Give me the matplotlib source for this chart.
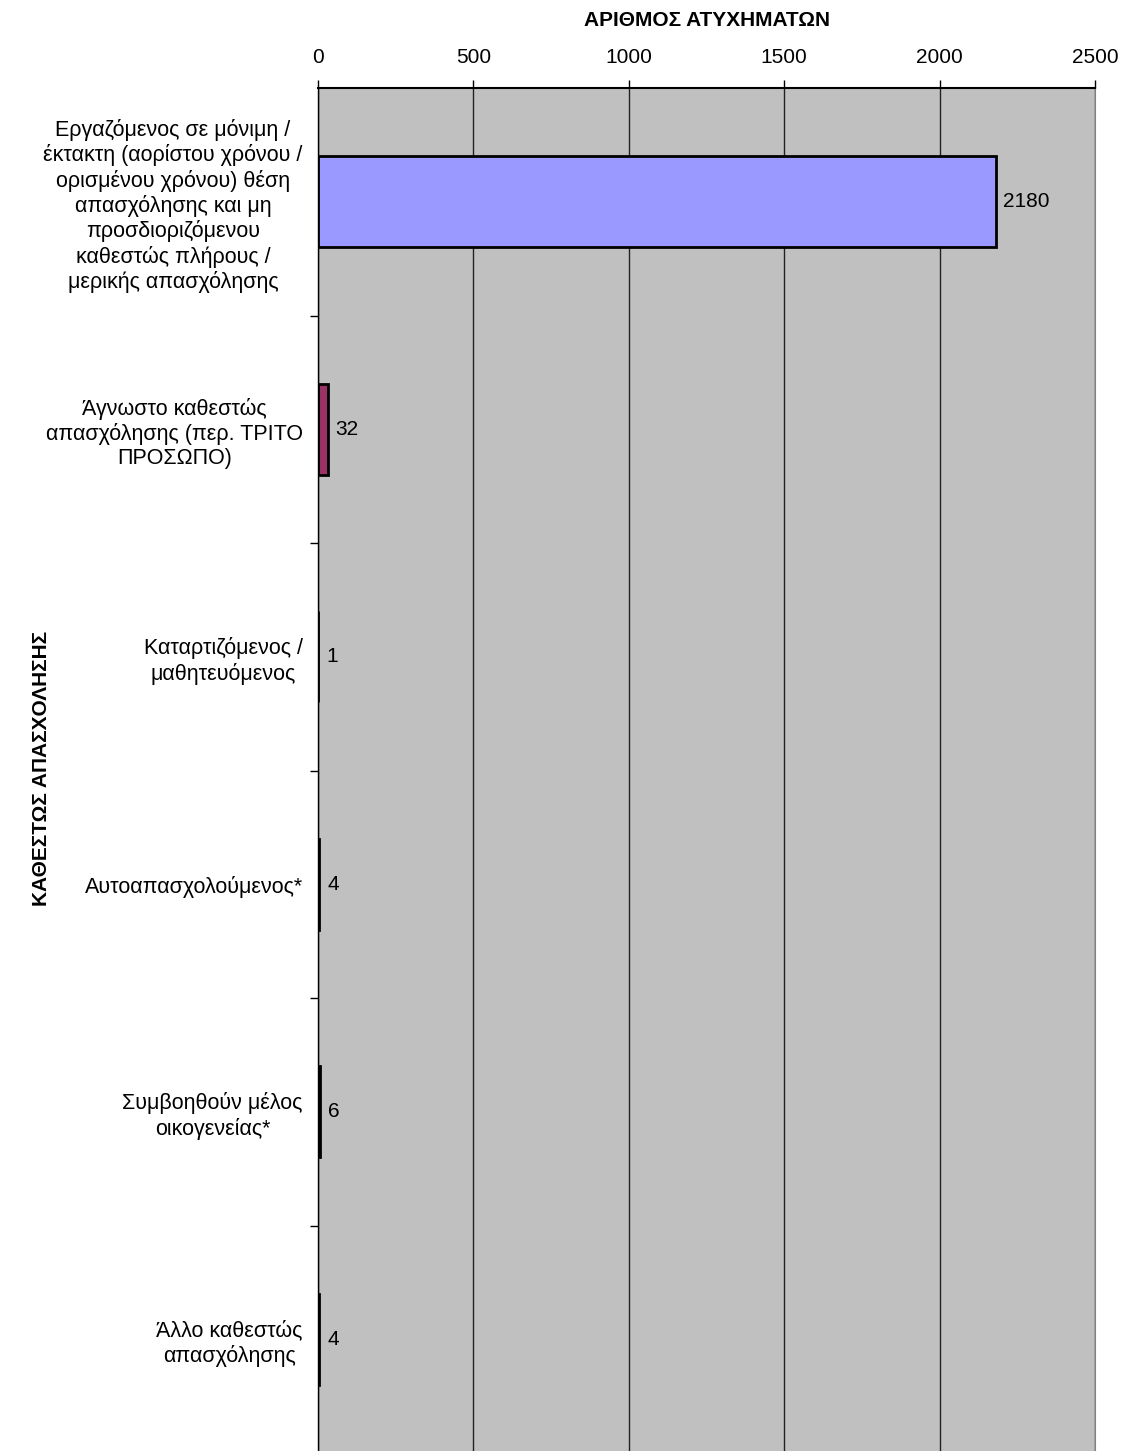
import matplotlib
matplotlib.use("Agg")
import matplotlib.pyplot as plt

plt.rcParams['font.family'] = ['Liberation Sans', 'DejaVu Sans']

categories = [
    "Εργαζόμενος σε μόνιμη /\nέκτακτη (αορίστου χρόνου /\nορισμένου χρόνου) θέση\nαπασχόλησης και μη\nπροσδιοριζόμενου\nκαθεστώς πλήρους /\nμερικής απασχόλησης",
    "Άγνωστο καθεστώς\nαπασχόλησης (περ. ΤΡΙΤΟ\nΠΡΟΣΩΠΟ)",
    "Καταρτιζόμενος /\nμαθητευόμενος",
    "Αυτοαπασχολούμενος*",
    "Συμβοηθούν μέλος\nοικογενείας*",
    "Άλλο καθεστώς\nαπασχόλησης",
]
values = [2180, 32, 1, 4, 6, 4]
colors = ["#9999FF", "#993366", "#FFFFCC", "#CCFFFF", "#660066", "#FF8080"]
xticks = [0, 500, 1000, 1500, 2000, 2500]

fig = plt.figure(figsize=(11.22, 14.51), dpi=100)
ax = fig.add_axes([318/1122, -2/1451, 777/1122, (1451-88+2)/1451])
ax.set_facecolor("#C0C0C0")

pos = list(range(len(categories)))
ax.barh(pos, values, height=0.4, color=colors, edgecolor="black", linewidth=2, zorder=3)
for p, v in zip(pos, values):
    ax.text(v + 25, p, str(v), va="center", ha="left", fontsize=15, zorder=4)

ax.set_xlim(0, 2500)
ax.set_ylim(len(categories) - 0.5, -0.5)
ax.set_xticks(xticks)
ax.xaxis.tick_top()
ax.xaxis.set_label_position("top")
ax.tick_params(axis="x", labelsize=15, length=6, width=1, pad=9, direction="out")
ax.set_yticks(pos)
ax.set_yticklabels(categories, fontsize=15.5, ha="right", multialignment="center", linespacing=1.2)
ax.tick_params(axis="y", length=0, pad=11)
ax.set_yticks([p + 0.5 for p in pos[:-1]], minor=True)
ax.tick_params(axis="y", which="minor", length=6, width=1, direction="out")

ax.grid(axis="x", color="#222222", linewidth=1, zorder=1)
ax.set_axisbelow(True)
ax.spines["left"].set_color("black")
ax.spines["left"].set_linewidth(1)
ax.spines["top"].set_color("black")
ax.spines["top"].set_linewidth(1.5)
ax.spines["right"].set_color("#808080")
ax.spines["bottom"].set_visible(False)

ax.set_xlabel("ΑΡΙΘΜΟΣ ΑΤΥΧΗΜΑΤΩΝ", fontsize=15, fontweight="bold", labelpad=16)
fig.text(42/1122, 1 - 768/1451, "ΚΑΘΕΣΤΩΣ ΑΠΑΣΧΟΛΗΣΗΣ", rotation=90, fontsize=15,
         fontweight="bold", ha="center", va="center")

fig.savefig("out.png", dpi=100)
